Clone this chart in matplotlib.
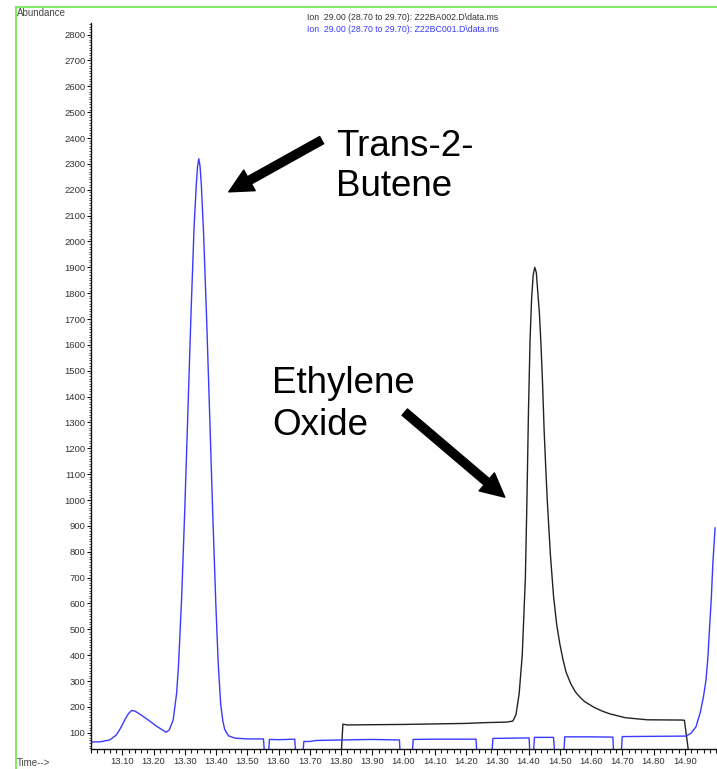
"""Overlay of two extracted-ion chromatograms (m/z 29) with peak callouts"""

import matplotlib
matplotlib.use('Agg')
import matplotlib.pyplot as plt
from matplotlib.lines import Line2D
from matplotlib.ticker import MultipleLocator, FixedLocator

plt.rcParams['font.family'] = ['Liberation Sans', 'DejaVu Sans']

# Z22BC001 trace (blue): retention time (min) and abundance
blue_time = [13.000, 13.030, 13.060, 13.080, 13.090, 13.100, 13.110, 13.120,
             13.130, 13.140, 13.150, 13.180, 13.210, 13.240, 13.250, 13.263,
             13.274, 13.280, 13.290, 13.300, 13.310, 13.320, 13.330, 13.337,
             13.341, 13.345, 13.349, 13.353, 13.360, 13.370, 13.380, 13.390,
             13.400, 13.407, 13.415, 13.422, 13.428, 13.440, 13.460, 13.500,
             13.552, 13.556, 13.567, 13.571, 13.600, 13.652, 13.656, 13.677,
             13.681, 13.700, 13.720, 13.800, 13.900, 13.987, 13.990, 14.027,
             14.031, 14.100, 14.232, 14.236, 14.282, 14.286, 14.350, 14.402,
             14.405, 14.415, 14.419, 14.480, 14.485, 14.512, 14.516, 14.600,
             14.670, 14.673, 14.696, 14.700, 14.800, 14.904, 14.920, 14.936,
             14.950, 14.960, 14.968, 14.974, 14.979, 14.985, 14.990, 14.997]
blue_abund = [64, 65, 72, 90, 108, 130, 154, 174,
              186, 184, 177, 152, 125, 102, 110, 149,
              253, 360, 620, 960, 1340, 1720, 2060, 2220,
              2290, 2320, 2290, 2220, 2040, 1700, 1320, 930,
              580, 370, 210, 145, 112, 88, 79, 76,
              76, 0, 0, 74, 73, 75, 0, 0,
              66, 66, 70, 72, 74, 72, 0, 0,
              74, 75, 75, 0, 0, 78, 79, 80,
              0, 0, 82, 82, 0, 0, 84, 84,
              83, 0, 0, 85, 86, 87, 98, 123,
              180, 240, 304, 390, 497, 620, 756, 892]

# Z22BA002 trace (black)
black_time = [13.800, 13.806, 13.820, 13.900, 14.000, 14.100, 14.200, 14.260,
              14.330, 14.350, 14.360, 14.370, 14.380, 14.390, 14.395, 14.400,
              14.405, 14.410, 14.415, 14.420, 14.425, 14.430, 14.435, 14.440,
              14.445, 14.450, 14.455, 14.460, 14.470, 14.480, 14.490, 14.500,
              14.510, 14.520, 14.535, 14.550, 14.565, 14.580, 14.610, 14.635,
              14.660, 14.710, 14.780, 14.890, 14.899, 14.915]
black_abund = [0, 133, 130, 131, 132, 134, 136, 139,
               141, 145, 170, 250, 400, 700, 1000, 1350,
               1620, 1780, 1870, 1900, 1880, 1800, 1720, 1600,
               1450, 1270, 1130, 1000, 790, 630, 520, 445,
               385, 335, 290, 258, 237, 220, 198, 184,
               173, 158, 150, 149, 148, 0]

x_ticks = [13.1, 13.2, 13.3, 13.4, 13.5, 13.6, 13.7, 13.8, 13.9, 14.0,
           14.1, 14.2, 14.3, 14.4, 14.5, 14.6, 14.7, 14.8, 14.9]
x_labels = ['%.2f' % t for t in x_ticks]
y_ticks = list(range(100, 2900, 100))

header_black = 'Ion  29.00 (28.70 to 29.70): Z22BA002.D\\data.ms'
header_blue = 'Ion  29.00 (28.70 to 29.70): Z22BC001.D\\data.ms'

W, H = 717, 769
fig = plt.figure(figsize=(W / 100, H / 100), dpi=100)
ax = fig.add_axes([91 / W, 20 / H, 625 / W, 726 / H])

ax.plot(black_time, black_abund, color='#222222', lw=1.0)
ax.plot(blue_time, blue_abund, color='#3a3aff', lw=1.0)

ax.set_xlim(13.0, 15.0)
ax.set_ylim(37, 2845)

for side in ('top', 'right'):
    ax.spines[side].set_visible(False)
for side in ('left', 'bottom'):
    ax.spines[side].set_linewidth(1.0)
    ax.spines[side].set_color('#111111')

ax.xaxis.set_major_locator(FixedLocator(x_ticks))
ax.set_xticklabels(x_labels)
ax.xaxis.set_minor_locator(MultipleLocator(0.02))
ax.yaxis.set_major_locator(FixedLocator(y_ticks))
ax.set_yticklabels([str(v) for v in y_ticks])
ax.yaxis.set_minor_locator(MultipleLocator(10))

ax.tick_params(axis='both', which='major', labelsize=6.8, labelcolor='#333333',
               color='#111111', width=0.8, direction='out')
ax.tick_params(axis='x', which='major', length=4, pad=2)
ax.tick_params(axis='x', which='minor', length=3, width=0.8, color='#111111')
ax.tick_params(axis='y', which='major', length=3, pad=1)
ax.tick_params(axis='y', which='minor', length=1.5, width=0.6, color='#333333')

# peak callouts
arrow = dict(arrowstyle='simple,head_length=1.0,head_width=1.0,tail_width=0.35',
             mutation_scale=17, color='black', shrinkA=0, shrinkB=0)
ax.annotate('', xy=(13.441, 2192), xytext=(13.738, 2392), arrowprops=arrow)
ax.annotate('', xy=(14.324, 1011), xytext=(14.004, 1340), arrowprops=arrow)
ax.text(13.783, 2290, 'Trans-2-\nButene', fontsize=26.5, ha='left', va='center',
        linespacing=1.2)
ax.text(13.579, 1370, 'Ethylene\nOxide', fontsize=26.5, ha='left', va='center',
        linespacing=1.25)

# trace headers
fig.text(403 / W, 1 - 18 / H, header_black, fontsize=6.3, color='#333333',
         ha='center', va='center')
fig.text(403 / W, 1 - 29 / H, header_blue, fontsize=6.3, color='#3a3aff',
         ha='center', va='center')

# frame and axis titles
frame = '#66e84a'
fig.add_artist(Line2D([16 / W, 1.0], [1 - 7 / H, 1 - 7 / H], color=frame, lw=1.2))
fig.add_artist(Line2D([16 / W, 16 / W], [1 - 7 / H, 0.0], color=frame, lw=1.2))
fig.text(17 / W, 1 - 13 / H, 'Abundance', fontsize=7, color='#444444',
         ha='left', va='center')
fig.text(17 / W, 1 / H, 'Time-->', fontsize=7, color='#444444',
         ha='left', va='bottom')

fig.savefig('out.png', dpi=100)
